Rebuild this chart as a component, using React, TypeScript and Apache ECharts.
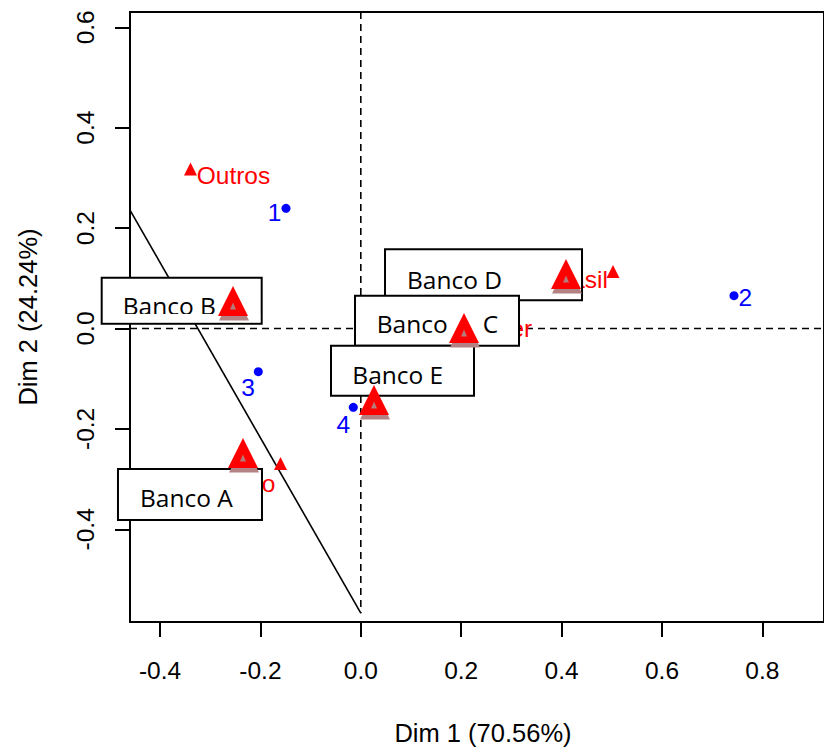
import React, { useEffect, useRef } from 'react';
import * as echarts from 'echarts';

// Row points (blue)
const rowNames = ['1', '2', '3', '4'];
const rowX = [-0.149, 0.7434, -0.2042, -0.0149];
const rowY = [0.2394, 0.0653, -0.086, -0.157];

// Column points (small red triangles)
const colNames = ['Outros', 'Brasil', 'Santander', 'Bradesco'];
const colX = [-0.3392, 0.5024, 0.104, -0.16];
const colY = [0.3177, 0.1135, 0.013, -0.2689];

// Banks (big red triangles with boxed labels)
const bankNames = ['Banco D', 'Banco C', 'Banco E', 'Banco B', 'Banco A'];
const bankX = [0.4088, 0.2056, 0.0263, -0.2546, -0.2347];
const bankY = [0.1086, 0.001, -0.1424, 0.0548, -0.248];

const xTicks = [-0.4, -0.2, 0, 0.2, 0.4, 0.6, 0.8];
const yTicks = [-0.4, -0.2, 0, 0.2, 0.4, 0.6];
const xTitle = 'Dim 1 (70.56%)';
const yTitle = 'Dim 2 (24.24%)';

const X_MIN = -0.45976;
const X_MAX = 0.92271;
const Y_MIN = -0.58466;
const Y_MAX = 0.63048;

const hLine = [[X_MIN, 0], [X_MAX, 0]];
const vLine = [[0, Y_MAX], [0, -0.567]];
const diagLine = [[X_MIN, 0.236], [0, -0.567]];

// label placement (layout, pixels)
const rowLabelLayout = [
  { pos: 'left', off: [0, 3.7] },
  { pos: 'right', off: [0, 1.3] },
  { pos: 'left', off: [1, 16.3] },
  { pos: 'left', off: [1.4, 16.7] },
];
const colLabelLayout = [
  { pos: 'right', off: [-0.3, 6] },
  { pos: 'left', off: [1.5, 7.5] },
  { pos: 'right', off: [-0.3, 6.4] },
  { pos: 'left', off: [1.5, 20] },
];
const boxLayout: any[] = [
  { bx: -181, by: -24.7, w: 197, h: 51, tx: [-159], ty: 5.3 },
  { bx: -109, by: -32.3, w: 164, h: 50, tx: [-87.3, 18.7], ty: -4 },
  { bx: -43, by: -54.3, w: 143, h: 50, tx: [-21.7], ty: -25 },
  { bx: -131.3, by: -23.3, w: 160, h: 46, tx: [-110.3], ty: 4.7, band: 13 },
  { bx: -125, by: 16, w: 144, h: 51, tx: [-103], ty: 44.8 },
];

const RFONT = '"Liberation Sans", Arial, sans-serif';
const BFONT = '"Open Sans", "Noto Sans", sans-serif';

export default function App() {
  const ref = useRef<HTMLDivElement>(null);
  useEffect(() => {
    if (!ref.current) return;
    const chart = echarts.init(ref.current, null, { renderer: 'svg' });
    const bankData = bankNames.map((_, i) => [bankX[i], bankY[i]]);
    const option: any = {
      animation: false,
      backgroundColor: '#fff',
      grid: {
        show: true,
        left: 130,
        top: 12,
        right: 0,
        bottom: 129,
        borderColor: '#000',
        borderWidth: 2,
        backgroundColor: 'transparent',
      },
      xAxis: {
        type: 'value',
        min: X_MIN,
        max: X_MAX,
        splitLine: { show: false },
        axisLine: { show: false, onZero: false },
        axisTick: {
          show: true,
          customValues: xTicks,
          length: 15,
          lineStyle: { color: '#000', width: 2 },
        },
        axisLabel: {
          customValues: xTicks,
          formatter: (v: number) => v.toFixed(1),
          fontSize: 24.5,
          fontFamily: RFONT,
          color: '#000',
          margin: 36,
        },
        name: xTitle,
        nameLocation: 'middle',
        nameGap: 98,
        nameTextStyle: {
          fontSize: 25.5,
          fontFamily: RFONT,
          color: '#000',
          padding: [0, 0, 0, 12],
        },
      },
      yAxis: {
        type: 'value',
        min: Y_MIN,
        max: Y_MAX,
        splitLine: { show: false },
        axisLine: { show: false, onZero: false },
        axisTick: {
          show: true,
          customValues: yTicks,
          length: 15,
          lineStyle: { color: '#000', width: 2 },
        },
        axisLabel: {
          customValues: yTicks,
          formatter: (v: number) => v.toFixed(1),
          rotate: 90,
          fontSize: 24.5,
          fontFamily: RFONT,
          color: '#000',
          margin: 32,
        },
        name: yTitle,
        nameLocation: 'middle',
        nameRotate: 90,
        nameGap: 89,
        nameTextStyle: { fontSize: 25.5, fontFamily: RFONT, color: '#000' },
      },
      series: [
        {
          type: 'line',
          data: hLine,
          symbol: 'none',
          z: 1,
          silent: true,
          lineStyle: { color: '#000', width: 1.6, type: [7, 5] },
        },
        {
          type: 'line',
          data: vLine,
          symbol: 'none',
          z: 1,
          silent: true,
          lineStyle: { color: '#000', width: 1.6, type: [7, 5] },
        },
        {
          type: 'line',
          data: diagLine,
          symbol: 'none',
          z: 1,
          silent: true,
          lineStyle: { color: '#000', width: 1.6 },
        },
        {
          type: 'scatter',
          z: 2,
          silent: true,
          symbol: 'circle',
          symbolSize: 9,
          itemStyle: { color: '#0000ff', opacity: 1 },
          data: rowNames.map((n, i) => ({
            name: n,
            value: [rowX[i], rowY[i]],
            label: {
              show: true,
              formatter: n,
              position: rowLabelLayout[i].pos,
              distance: 0,
              offset: rowLabelLayout[i].off,
              color: '#0000ff',
              fontSize: 24.5,
              fontFamily: RFONT,
            },
          })),
        },
        {
          type: 'scatter',
          z: 2,
          silent: true,
          symbol: 'triangle',
          symbolSize: 13,
          itemStyle: { color: '#ff0000', opacity: 1 },
          data: colNames.map((n, i) => ({
            name: n,
            value: [colX[i], colY[i]],
            label: {
              show: true,
              formatter: n,
              position: colLabelLayout[i].pos,
              distance: 0,
              offset: colLabelLayout[i].off,
              color: '#ff0000',
              fontSize: 24.5,
              fontFamily: RFONT,
            },
          })),
        },
        {
          type: 'custom',
          z: 5,
          silent: true,
          clip: false,
          data: bankData,
          encode: { x: 0, y: 1 },
          renderItem: (params: any, api: any) => {
            const i = params.dataIndex;
            const p = api.coord([api.value(0), api.value(1)]);
            const L = boxLayout[i];
            const children: any[] = [
              {
                type: 'rect',
                shape: { x: p[0] + L.bx, y: p[1] + L.by, width: L.w, height: L.h },
                style: { fill: '#fff', stroke: '#000', lineWidth: 2 },
              },
            ];
            const words = L.tx.length > 1 ? bankNames[i].split(' ') : [bankNames[i]];
            words.forEach((w: string, k: number) => {
              children.push({
                type: 'text',
                x: p[0] + L.tx[k],
                y: p[1] + L.ty,
                style: {
                  text: w,
                  fill: '#000',
                  fontSize: 24.5,
                  fontFamily: BFONT,
                  align: 'left',
                  verticalAlign: 'middle',
                },
              });
            });
            if (L.band !== undefined) {
              children.push({
                type: 'rect',
                shape: {
                  x: p[0] + L.bx + 1.5,
                  y: p[1] + L.band,
                  width: L.w - 3,
                  height: L.by + L.h - L.band - 1.5,
                },
                style: { fill: '#fff' },
              });
            }
            return { type: 'group', children };
          },
        },
        {
          type: 'scatter',
          z: 6,
          silent: true,
          symbol: 'triangle',
          symbolSize: [30, 30],
          symbolOffset: [1, 4.5],
          itemStyle: { color: '#b48282', opacity: 1 },
          data: bankData,
        },
        {
          type: 'scatter',
          z: 7,
          silent: true,
          symbol: 'triangle',
          symbolSize: [30, 30],
          itemStyle: { color: '#ff0000', opacity: 1 },
          data: bankData,
        },
        {
          type: 'scatter',
          z: 8,
          silent: true,
          symbol: 'triangle',
          symbolSize: [6, 7],
          symbolOffset: [0, 5],
          itemStyle: { color: '#b47c7c', opacity: 1 },
          data: bankData,
        },
      ],
    };
    chart.setOption(option);
    return () => chart.dispose();
  }, []);
  return (
    <div
      ref={ref}
      style={{ position: 'fixed', left: 0, top: 0, width: 824, height: 751, background: '#fff' }}
    />
  );
}
